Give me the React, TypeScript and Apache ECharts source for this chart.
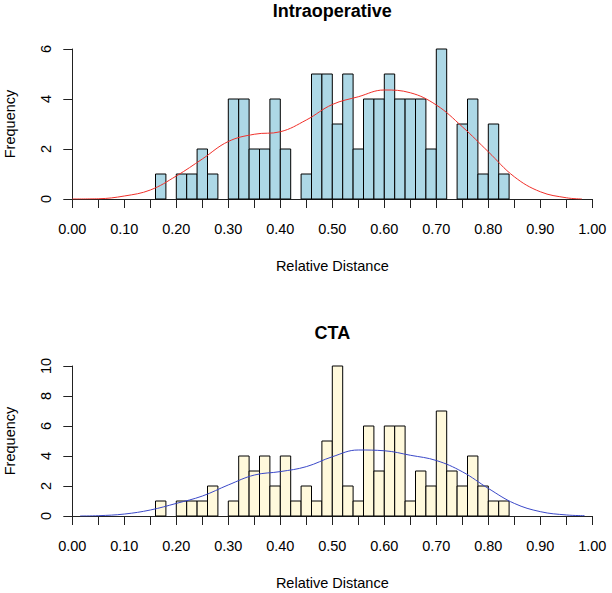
import React, { useEffect, useRef } from "react";
import * as echarts from "echarts";

// Histogram bin starts (bin width 0.02)
const binStarts = [0.16,0.18,0.20,0.22,0.24,0.26,0.28,0.30,0.32,0.34,0.36,0.38,0.40,0.42,0.44,0.46,0.48,0.50,0.52,0.54,0.56,0.58,0.60,0.62,0.64,0.66,0.68,0.70,0.72,0.74,0.76,0.78,0.80,0.82];
const binWidth = 0.02;
const intraCounts = [1,0,1,1,2,1,0,4,4,2,2,4,2,0,1,5,5,3,5,2,4,4,5,4,4,4,2,6,0,3,4,1,3,1];
const ctaCounts = [1,0,1,1,1,2,0,1,4,3,4,2,4,1,2,1,5,10,2,1,6,3,6,6,1,3,2,7,3,2,4,2,1,1];

// Density curves (scaled to frequency)
const intraCurveX = [0.00,0.05,0.10,0.15,0.20,0.25,0.30,0.35,0.40,0.45,0.50,0.55,0.60,0.65,0.70,0.75,0.80,0.85,0.90,0.95,0.98];
const intraCurveY = [0.00,0.01,0.12,0.36,0.92,1.60,2.30,2.59,2.69,3.16,3.78,4.09,4.36,4.25,3.76,2.89,1.89,0.89,0.29,0.05,0.00];
const ctaCurveX = [0.015,0.05,0.10,0.15,0.20,0.25,0.30,0.35,0.40,0.45,0.50,0.55,0.60,0.65,0.70,0.75,0.80,0.85,0.90,0.95,0.985];
const ctaCurveY = [0.00,0.02,0.13,0.40,0.84,1.33,2.07,2.73,2.96,3.29,3.95,4.40,4.35,4.05,3.70,2.95,1.84,0.84,0.29,0.07,0.02];

const xTicks = { min: 0, max: 1, interval: 0.05 };
const intraYMax = 6;
const ctaYMax = 10;

const FONT = "Liberation Sans, Arial, Helvetica, sans-serif";

export default function App() {
  const ref = useRef<HTMLDivElement>(null);
  useEffect(() => {
    if (!ref.current) return;
    const chart = echarts.init(ref.current, undefined, { renderer: "svg" });

    const barRender = (color: string) => (params: any, api: any) => {
      const x0 = api.value(0);
      const h = api.value(1);
      if (!h) return null;
      const p0 = api.coord([x0, 0]);
      const p1 = api.coord([x0 + binWidth, h]);
      return {
        type: "rect",
        shape: { x: p0[0], y: p1[1], width: p1[0] - p0[0], height: p0[1] - p1[1] },
        style: { fill: color, stroke: "#000", lineWidth: 1 },
      };
    };

    const xAxisCommon = (gridIndex: number) => ({
      type: "value",
      gridIndex,
      min: xTicks.min,
      max: xTicks.max,
      interval: xTicks.interval,
      name: "Relative Distance",
      nameLocation: "middle",
      nameGap: 59,
      nameTextStyle: { color: "#000", fontSize: 14.5, fontFamily: FONT },
      axisLine: { show: true, onZero: true, lineStyle: { color: "#222", width: 1 } },
      axisTick: { show: true, length: 9, lineStyle: { color: "#222" } },
      splitLine: { show: false },
      axisLabel: {
        color: "#000",
        fontSize: 14.5,
        fontFamily: FONT,
        margin: 22,
        formatter: (v: number) => (Math.round(v * 100) % 10 === 0 ? v.toFixed(2) : ""),
      },
    });

    const yAxisCommon = (gridIndex: number, max: number) => ({
      type: "value",
      gridIndex,
      min: 0,
      max,
      interval: 2,
      name: "Frequency",
      nameLocation: "middle",
      nameRotate: 90,
      nameGap: 55,
      nameTextStyle: { color: "#000", fontSize: 14.5, fontFamily: FONT },
      axisLine: { show: true, lineStyle: { color: "#222", width: 1 } },
      axisTick: { show: true, length: 9, lineStyle: { color: "#222" } },
      splitLine: { show: false },
      axisLabel: { color: "#000", fontSize: 14.5, fontFamily: FONT, rotate: 90, margin: 19 },
    });

    chart.setOption({
      animation: false,
      backgroundColor: "#fff",
      title: [
        {
          text: "Intraoperative",
          left: 332.3,
          textAlign: "center",
          top: 2,
          padding: 0,
          textStyle: { fontSize: 18, fontWeight: "bold", color: "#000", fontFamily: FONT },
        },
        {
          text: "CTA",
          left: 332.3,
          textAlign: "center",
          top: 324,
          padding: 0,
          textStyle: { fontSize: 18, fontWeight: "bold", color: "#000", fontFamily: FONT },
        },
      ],
      grid: [
        { left: 72.3, width: 520, top: 49, height: 150, containLabel: false, outerBoundsMode: "none" },
        { left: 72.3, width: 520, top: 366, height: 150, containLabel: false, outerBoundsMode: "none" },
      ],
      xAxis: [xAxisCommon(0), xAxisCommon(1)],
      yAxis: [yAxisCommon(0, intraYMax), yAxisCommon(1, ctaYMax)],
      series: [
        {
          type: "custom",
          xAxisIndex: 0,
          yAxisIndex: 0,
          renderItem: barRender("#ADD8E6"),
          data: binStarts.map((s, i) => [s, intraCounts[i]]),
          z: 2,
        },
        {
          type: "line",
          xAxisIndex: 0,
          yAxisIndex: 0,
          smooth: 0.4,
          symbol: "none",
          lineStyle: { color: "#F0302A", width: 1 },
          data: intraCurveX.map((x, i) => [x, intraCurveY[i]]),
          z: 3,
        },
        {
          type: "custom",
          xAxisIndex: 1,
          yAxisIndex: 1,
          renderItem: barRender("#FFF9DC"),
          data: binStarts.map((s, i) => [s, ctaCounts[i]]),
          z: 2,
        },
        {
          type: "line",
          xAxisIndex: 1,
          yAxisIndex: 1,
          smooth: 0.4,
          symbol: "none",
          lineStyle: { color: "#3A48C8", width: 1 },
          data: ctaCurveX.map((x, i) => [x, ctaCurveY[i]]),
          z: 3,
        },
      ],
    });
    return () => chart.dispose();
  }, []);
  return (
    <div
      ref={ref}
      style={{ position: "fixed", left: 0, top: 0, width: 612, height: 593, background: "#fff" }}
    />
  );
}
